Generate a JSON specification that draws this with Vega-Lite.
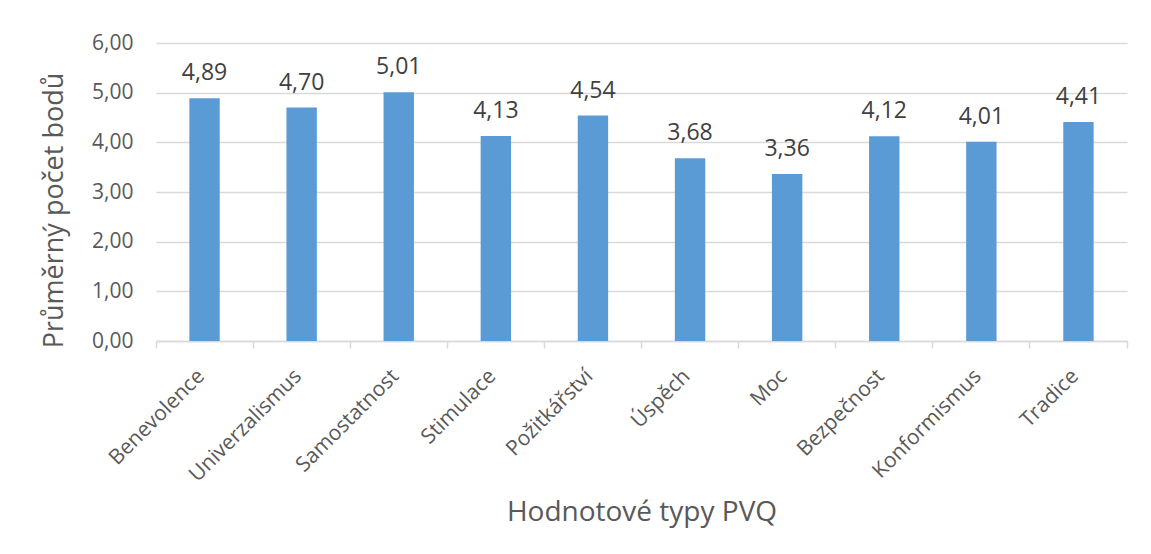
{
  "$schema": "https://vega.github.io/schema/vega-lite/v6.json",
  "width": 971,
  "height": 298,
  "autosize": {"type": "none"},
  "padding": {"left": 156, "top": 43, "right": 24, "bottom": 213},
  "background": "white",
  "data": {"values": [
    {"typ": "Benevolence", "hodnota": 4.89},
    {"typ": "Univerzalismus", "hodnota": 4.70},
    {"typ": "Samostatnost", "hodnota": 5.01},
    {"typ": "Stimulace", "hodnota": 4.13},
    {"typ": "Požitkářství", "hodnota": 4.54},
    {"typ": "Úspěch", "hodnota": 3.68},
    {"typ": "Moc", "hodnota": 3.36},
    {"typ": "Bezpečnost", "hodnota": 4.12},
    {"typ": "Konformismus", "hodnota": 4.01},
    {"typ": "Tradice", "hodnota": 4.41}
  ]},
  "encoding": {
    "x": {
      "field": "typ", "type": "nominal", "sort": null,
      "scale": {"paddingInner": 0, "paddingOuter": 0},
      "axis": {
        "title": "Hodnotové typy PVQ",
        "titleFont": "Open Sans", "titleFontSize": 28, "titleFontWeight": "normal", "titleColor": "#595959",
        "titlePadding": 13,
        "labelAngle": -45, "labelFont": "Open Sans", "labelFontSize": 21, "labelColor": "#595959",
        "labelPadding": 17, "labelOffset": -11,
        "bandPosition": 1, "tickExtra": true,
        "domainColor": "#d9d9d9", "domainWidth": 1.5, "tickColor": "#d9d9d9", "tickSize": 7, "tickWidth": 1.5,
        "grid": false
      }
    },
    "y": {
      "field": "hodnota", "type": "quantitative",
      "scale": {"domain": [0, 6], "nice": false},
      "axis": {
        "title": "Průměrný počet bodů",
        "titleFont": "Open Sans", "titleFontSize": 27, "titleFontWeight": "normal", "titleColor": "#595959",
        "titlePadding": 23, "titleY": 167,
        "values": [0, 1, 2, 3, 4, 5, 6], "format": ".2f", "formatType": "number",
        "labelFont": "Open Sans", "labelFontSize": 21, "labelColor": "#595959", "labelPadding": 23,
        "domain": false, "ticks": false,
        "grid": true, "gridColor": "#d9d9d9", "gridWidth": 1.5
      }
    }
  },
  "layer": [
    {"mark": {"type": "bar", "color": "#5b9bd5", "width": {"band": 0.313}}},
    {
      "mark": {"type": "text", "font": "Open Sans", "fontSize": 23, "color": "#404040", "baseline": "alphabetic", "dy": -18},
      "encoding": {
        "text": {"field": "hodnota", "type": "quantitative", "format": ".2f"}
      }
    }
  ],
  "config": {
    "view": {"stroke": null},
    "locale": {"number": {"decimal": ",", "thousands": " ", "grouping": [3], "currency": ["", " Kč"]}}
  }
}
